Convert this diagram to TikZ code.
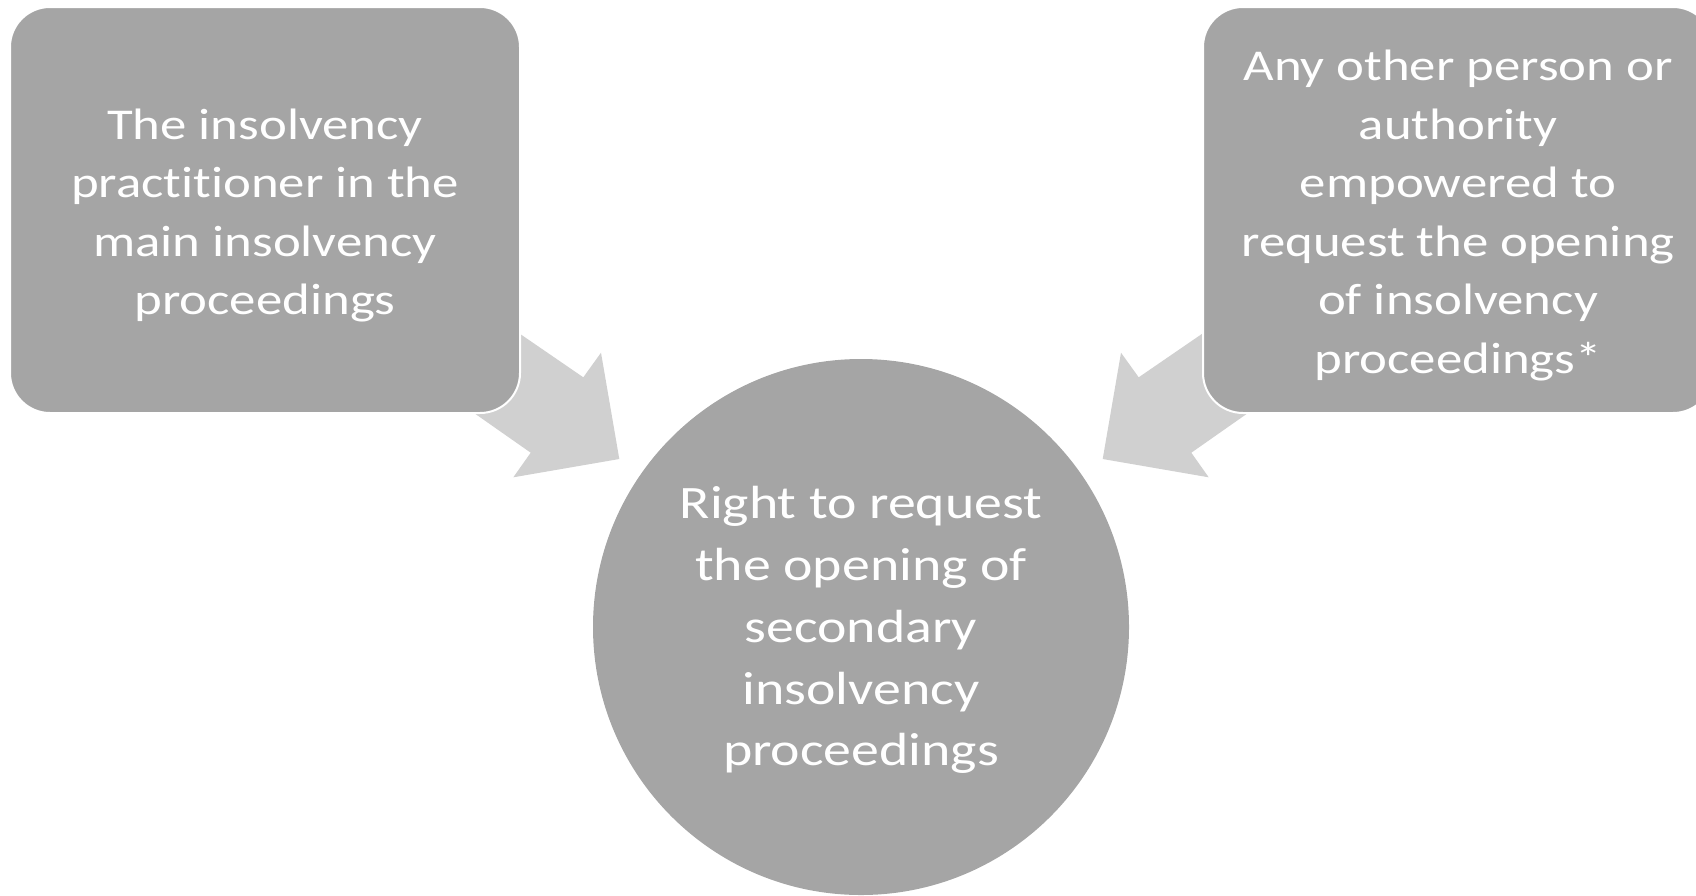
\documentclass[tikz,border=0pt]{standalone}
\usepackage{fontspec}
\setmainfont{Carlito}[FakeStretch=1.2, Ligatures=NoCommon]
\definecolor{boxgray}{RGB}{165,165,165}
\definecolor{arrowgray}{RGB}{208,208,208}
\newcommand{\firstline}[1]{\rule{0pt}{#1}}
\begin{document}
\begin{tikzpicture}[x=1pt,y=-1pt,
  txt/.style={text=white, align=center},
  party/.style={txt, font=\fontsize{44pt}{58.5pt}\selectfont, shape=rectangle,
    draw=white, line width=2pt, fill=boxgray, rounded corners=40pt,
    minimum width=510pt, minimum height=406pt, inner sep=0pt},
  goal/.style={txt, font=\fontsize{46.5pt}{61.8pt}\selectfont, shape=circle,
    fill=boxgray, minimum size=536pt, inner sep=0pt},
  blockarrow/.style={fill=arrowgray, draw=none}]
\useasboundingbox (0,0) rectangle (1696,895);
\clip (0,0) rectangle (1696,895);

% block arrows pointing towards the central circle (drawn first, tails hidden under the boxes)
\fill[blockarrow] (490.9,313.9) -- (583.3,377.3) -- (601,352.7) -- (619.3,459)
  -- (513.3,477.3) -- (530.7,452.7) -- (453.6,398.7) -- cycle;
\fill[blockarrow] (1231.1,313.9) -- (1138.7,377.3) -- (1121,352.7) -- (1102.7,459)
  -- (1208.7,477.3) -- (1191.3,452.7) -- (1268.4,398.7) -- cycle;

% the two parties who may request
\node[party] (practitioner) at (265,210)
  {\firstline{0.94em}The insolvency\\practitioner in the\\main insolvency\\proceedings};
\node[party] (other) at (1458,210)
  {\firstline{0.94em}Any other person or\\authority\\empowered to\\request the opening\\of insolvency\\proceedings*};

% the right itself
\node[goal] (right) at (861,627)
  {\firstline{0.83em}Right to request\\the opening of\\secondary\\insolvency\\proceedings};
\end{tikzpicture}
\end{document}
